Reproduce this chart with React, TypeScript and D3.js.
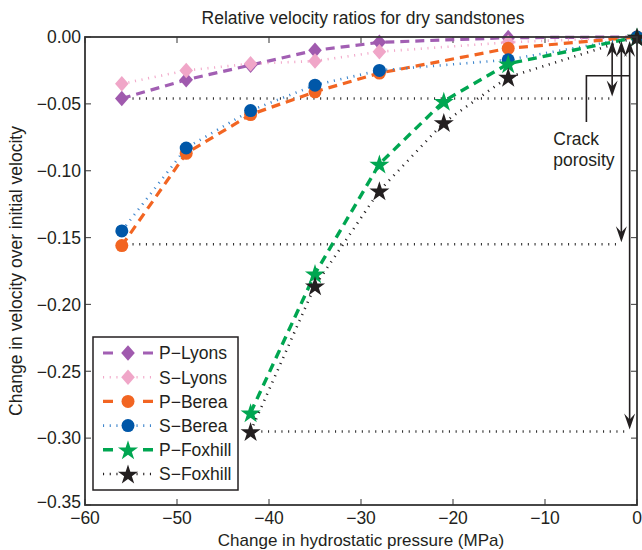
import React from "react";
import * as d3 from "d3";

const pressureLB = [-56, -49, -42, -35, -28, -14, 0];
const pressureFox = [-42, -35, -28, -21, -14, 0];
const pLyons = [-0.046, -0.032, -0.021, -0.010, -0.004, -0.0005, 0];
const sLyons = [-0.035, -0.025, -0.020, -0.018, -0.011, -0.004, 0];
const pBerea = [-0.156, -0.087, -0.058, -0.041, -0.027, -0.0085, 0];
const sBerea = [-0.145, -0.083, -0.055, -0.036, -0.025, -0.017, 0];
const pFoxhill = [-0.281, -0.177, -0.095, -0.048, -0.020, 0];
const sFoxhill = [-0.295, -0.186, -0.115, -0.064, -0.030, 0];

const xTicks = [-60, -50, -40, -30, -20, -10, 0];
const yTicks = [0, -0.05, -0.1, -0.15, -0.2, -0.25, -0.3, -0.35];

// crack porosity annotation: arrow x (MPa), bottom value, dotted line start x
const crackArrowX = [-2.7, -1.7, -0.8];
const crackValues = [-0.046, -0.155, -0.295];
const crackStartX = [-56, -56, -42];

const W = 642, H = 550;
const M = { left: 85, right: 5, top: 37, bottom: 45 };
const FONT = "'Liberation Sans', Arial, Helvetica, sans-serif";
const TXT = "#231f20";

type Series = { name: string; xs: number[]; ys: number[]; color: string; markerColor: string; dash: "dashed" | "dotted"; width: number; marker: "diamond" | "circle" | "star" };

const series: Series[] = [
  { name: "P\u2212Lyons", xs: pressureLB, ys: pLyons, color: "#a25fb3", markerColor: "#a05aae", dash: "dashed", width: 3.2, marker: "diamond" },
  { name: "S\u2212Lyons", xs: pressureLB, ys: sLyons, color: "#f2a9ca", markerColor: "#f0a6c8", dash: "dotted", width: 2.6, marker: "diamond" },
  { name: "P\u2212Berea", xs: pressureLB, ys: pBerea, color: "#f26522", markerColor: "#f26522", dash: "dashed", width: 3.2, marker: "circle" },
  { name: "S\u2212Berea", xs: pressureLB, ys: sBerea, color: "#3f86cc", markerColor: "#0057a8", dash: "dotted", width: 2.6, marker: "circle" },
  { name: "P\u2212Foxhill", xs: pressureFox, ys: pFoxhill, color: "#00a651", markerColor: "#00a651", dash: "dashed", width: 3.4, marker: "star" },
  { name: "S\u2212Foxhill", xs: pressureFox, ys: sFoxhill, color: "#231f20", markerColor: "#231f20", dash: "dotted", width: 2.6, marker: "star" },
];

const x = d3.scaleLinear().domain([-60, 0]).range([M.left, W - M.right]);
const y = d3.scaleLinear().domain([-0.35, 0]).range([H - M.bottom, M.top]);

const starPath = d3.symbol().type(d3.symbolStar).size(125)()!;
const diamondPath = "M0,-7.8L6.8,0L0,7.8L-6.8,0Z";

function Marker({ type, color, cx, cy }: { type: string; color: string; cx: number; cy: number }) {
  if (type === "circle") return <circle cx={cx} cy={cy} r={6.5} fill={color} />;
  if (type === "diamond") return <path d={diamondPath} transform={`translate(${cx},${cy})`} fill={color} />;
  return <path d={starPath} transform={`translate(${cx},${cy + 1})`} fill={color} />;
}

const DOT = "1.1 5.6";
const dashFor = (d: string) => (d === "dashed" ? "9 6" : DOT);

function arrowHead(xp: number, yp: number, dir: number) {
  // dir = 1 pointing down, -1 pointing up
  const L = 16, hw = 5.5, notch = 10;
  return `M${xp},${yp} L${xp - hw},${yp - dir * L} L${xp},${yp - dir * notch} L${xp + hw},${yp - dir * L} Z`;
}

export default function App() {
  const line = d3.line<[number, number]>().x((d) => x(d[0])).y((d) => y(d[1]));
  const x0 = M.left, x1 = W - M.right, y0 = M.top, y1 = H - M.bottom;
  const legend = { x: 93, y: 337, w: 145, h: 153 };
  return (
    <svg width={W} height={H} style={{ position: "absolute", left: 0, top: 0, background: "#fff" }} fontFamily={FONT}>
      {/* title */}
      <text x={(x0 + x1) / 2 + 2} y={24} textAnchor="middle" fontSize={17.5} fill={TXT}>Relative velocity ratios for dry sandstones</text>

      {/* ticks */}
      {xTicks.map((t) => (
        <g key={"xt" + t}>
          <line x1={x(t)} x2={x(t)} y1={y1} y2={y1 - 6} stroke="#555" strokeWidth={1.2} />
          <line x1={x(t)} x2={x(t)} y1={y0} y2={y0 + 6} stroke="#555" strokeWidth={1.2} />
          <text x={x(t)} y={524} textAnchor="middle" fontSize={17.5} fill={TXT}>{t < 0 ? "\u2212" + Math.abs(t) : String(t)}</text>
        </g>
      ))}
      {yTicks.map((t) => (
        <g key={"yt" + t}>
          <line x1={x0} x2={x0 + 6} y1={y(t)} y2={y(t)} stroke="#555" strokeWidth={1.2} />
          <line x1={x1} x2={x1 - 6} y1={y(t)} y2={y(t)} stroke="#555" strokeWidth={1.2} />
          <text x={81} y={t === -0.35 ? y(t) - 3 : y(t)} dy="0.36em" textAnchor="end" fontSize={17.5} fill={TXT}>{t < 0 ? "\u2212" + Math.abs(t).toFixed(2) : t.toFixed(2)}</text>
        </g>
      ))}

      {/* axis labels */}
      <text x={(x0 + x1) / 2} y={545.5} textAnchor="middle" fontSize={17} fill={TXT}>Change in hydrostatic pressure (MPa)</text>
      <text transform={`translate(22,${(y0 + y1) / 2}) rotate(-90)`} textAnchor="middle" fontSize={17.5} fill={TXT}>Change in velocity over initial velocity</text>

      {/* crack porosity dotted guides */}
      {crackValues.map((v, i) => (
        <line key={"g" + i} x1={x(crackStartX[i]) + 4} x2={x(crackArrowX[i])} y1={y(v)} y2={y(v)} stroke="#333" strokeWidth={2.6} strokeDasharray={DOT} />
      ))}

      {/* series */}
      {series.map((s) => {
        const pts = s.xs.map((xv, i) => [xv, s.ys[i]] as [number, number]);
        return (
          <g key={s.name}>
            <path d={line(pts)!} fill="none" stroke={s.color} strokeWidth={s.width} strokeDasharray={dashFor(s.dash)} />
            {pts.map((p, i) => (
              <Marker key={i} type={s.marker} color={s.markerColor} cx={x(p[0])} cy={y(p[1])} />
            ))}
          </g>
        );
      })}

      {/* crack porosity arrows */}
      {crackValues.map((v, i) => {
        const ax = x(crackArrowX[i]);
        const top = y(-0.003);
        const bot = y(v) - 2;
        return (
          <g key={"a" + i}>
            <line x1={ax} x2={ax} y1={top + 6} y2={bot - 6} stroke={TXT} strokeWidth={1.6} />
            <path d={arrowHead(ax, top, -1)} fill={TXT} />
            <path d={arrowHead(ax, bot, 1)} fill={TXT} />
          </g>
        );
      })}
      {/* bracket */}
      <path d={`M${x(crackArrowX[2])},${y(-0.029)} L${x(-5.5)},${y(-0.029)} L${x(-5.5)},${y(-0.0635)}`} fill="none" stroke={TXT} strokeWidth={1.6} />
      <text x={x(-9.1)} y={145} fontSize={17.5} fill={TXT}>Crack</text>
      <text x={x(-9.1)} y={166} fontSize={17.5} fill={TXT}>porosity</text>

      {/* box */}
      <rect x={x0} y={y0} width={x1 - x0} height={y1 - y0} fill="none" stroke="#333" strokeWidth={1.8} />

      {/* legend */}
      <g>
        <rect x={legend.x} y={legend.y} width={legend.w} height={legend.h} fill="#fff" stroke={TXT} strokeWidth={1.5} />
        {series.map((s, i) => {
          const cy = 353 + i * 24.2;
          return (
            <g key={"lg" + i}>
              <line x1={103} x2={153} y1={cy} y2={cy} stroke={s.color} strokeWidth={s.width} strokeDasharray={s.dash === "dashed" ? "10 30" : DOT} />
              <Marker type={s.marker} color={s.markerColor} cx={128} cy={cy} />
              <text x={159} y={cy} dy="0.36em" fontSize={17.5} fill={TXT}>{s.name}</text>
            </g>
          );
        })}
      </g>
    </svg>
  );
}
